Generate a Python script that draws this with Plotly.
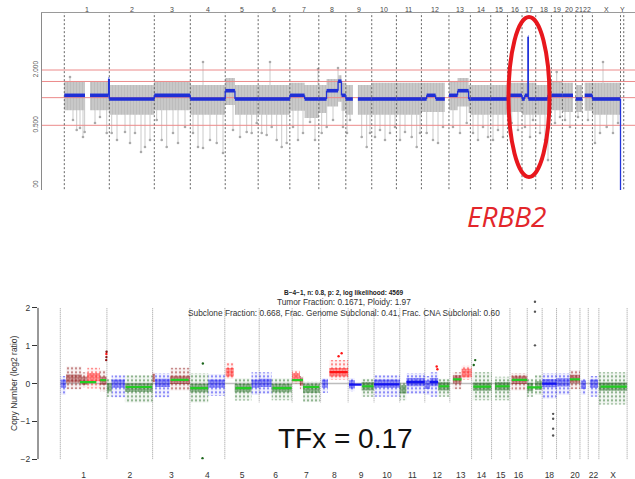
import plotly.graph_objects as go

# ---------------- data ----------------
chrom_names = ["1", "2", "3", "4", "5", "6", "7", "8", "9", "10", "11", "12",
               "13", "14", "15", "16", "17", "18", "19", "20", "21", "22", "X", "Y"]
# chromosome spans (Mb-like units) as laid out in each panel
top_chrom_len_mb = [250, 250, 200, 194, 183, 176, 161, 150, 144, 137, 139, 153,
                    119, 113, 93, 81, 76, 87, 61, 74, 37, 56, 156, 18]
bottom_chrom_names = chrom_names[:23]
bottom_chrom_len_mb = [259, 254, 207, 194, 191, 183, 158, 153, 144, 143, 139, 139,
                       121, 111, 102, 96, 83, 80, 74, 56, 46, 59, 157]
bottom_label_chroms = ["1", "2", "3", "4", "5", "6", "7", "8", "9", "10", "11", "12",
                       "13", "14", "15", "16", "18", "20", "22", "X"]

# top panel: copy ratio (log scale)
top_ref_lines = [0.5, 1.0, 1.5, 2.0]
top_tick_vals = [0.1, 0.5, 2.0]
top_tick_text = ["0.100", "0.500", "2.000"]

# chrom, start, end (Mb within chrom), segment ratio, cloud upper, cloud lower
top_segments = [
    ("1", 0, 115, 1.06, 1.48, 0.73), ("1", 143, 246, 1.06, 1.48, 0.73), ("1", 246, 250, 1.60, 1.48, 0.73),
    ("2", 0, 250, 0.967, 1.37, 0.65),
    ("3", 0, 200, 1.06, 1.48, 0.73),
    ("4", 0, 194, 0.967, 1.37, 0.65),
    ("5", 0, 54, 1.19, 1.64, 0.83), ("5", 54, 183, 0.967, 1.37, 0.65),
    ("6", 0, 176, 0.967, 1.37, 0.65),
    ("7", 0, 82, 1.06, 1.45, 0.72), ("7", 82, 161, 0.967, 1.37, 0.60),
    ("8", 0, 43, 0.967, 1.37, 0.68), ("8", 43, 107, 1.19, 1.60, 0.80),
    ("8", 107, 126, 1.51, 1.75, 0.90), ("8", 126, 150, 1.06, 1.45, 0.72),
    ("9", 0, 39, 0.967, 1.37, 0.65), ("9", 67, 144, 0.967, 1.37, 0.65),
    ("10", 0, 137, 0.967, 1.45, 0.65),
    ("11", 0, 139, 0.967, 1.45, 0.65),
    ("12", 0, 29, 0.967, 1.45, 0.70), ("12", 29, 79, 1.06, 1.45, 0.70), ("12", 79, 130, 0.967, 1.45, 0.70),
    ("13", 0, 48, 1.06, 1.50, 0.73), ("13", 48, 109, 1.19, 1.64, 0.80), ("13", 109, 119, 0.967, 1.37, 0.68),
    ("14", 0, 113, 0.967, 1.37, 0.65),
    ("15", 0, 93, 0.967, 1.37, 0.65),
    ("16", 0, 81, 1.06, 1.45, 0.70),
    ("17", 0, 15, 0.967, 1.45, 0.65), ("17", 15, 33, 1.06, 1.45, 0.65),
    ("17", 33, 35, 4.6, 1.45, 0.65), ("17", 35, 76, 0.967, 1.45, 0.65),
    ("18", 0, 67, 0.967, 1.37, 0.65), ("18", 67, 87, 1.06, 1.45, 0.70),
    ("19", 0, 61, 1.06, 1.50, 0.73),
    ("20", 0, 59, 1.06, 1.45, 0.70),
    ("21", 0, 37, 0.967, 1.37, 0.70),
    ("22", 13, 56, 1.06, 1.45, 0.72),
    ("X", 0, 156, 0.967, 1.45, 0.65),
    ("Y", 0, 18, 0.02, None, None),
]

# isolated bins sticking out of the cloud (genome position Mb, ratio)
top_spike_pos_mb = [48.3, 68.9, 87.2, 103.9, 113, 170.6, 198.3, 235.6, 31.7,
                    263.3, 292.8, 337.2, 365, 392.8, 426.1, 448.3, 476.1,
                    513.3, 541.1, 568.9, 603.9, 631.7, 670.6,
                    715, 742.8, 770.6, 809.4, 846.7, 881.7, 770.6,
                    937.2, 976.1, 1013.3, 1041.1, 1068.9,
                    1096.7, 1124.4, 1152.2, 1180, 1207.8, 1235.6, 1142.8,
                    1270.6, 1298.3, 1326.1, 1365, 1392.8, 1409.4,
                    1430, 1457.8, 1492.8, 1548.3, 1520.6,
                    1570.6, 1587.2, 1652.2, 1680, 1698.3,
                    1726.1, 1753.9, 1781.7, 1809.4, 1837.2,
                    1865, 1892.8, 1930, 1957.8, 1976.1,
                    2013.3, 2048.3, 2076.1, 2103.9,
                    2159.4, 2198.3, 2235.6,
                    2270.6, 2298.3, 2326.1, 2353.9,
                    2381.7, 2409.4, 2437.2,
                    2485.6, 2520.6,
                    2559.4, 2587.2, 2603.9,
                    2642.8, 2670.6, 2687.2,
                    2726.1, 2753.9, 2735.6,
                    2781.7, 2809.4,
                    2853.9, 2909.4,
                    2948.3, 2976.1, 3013.3, 3048.3, 3076.1, 2992.8]
top_spike_ratio = [0.571, 0.444, 0.467, 0.373, 0.422, 0.53, 0.616, 0.412, 1.68,
                   0.412, 0.346, 0.422, 0.321, 0.412, 0.256, 0.29, 0.346,
                   0.571, 0.346, 0.29, 0.412, 0.321, 0.479,
                   0.412, 0.29, 0.283, 0.346, 0.321, 0.25, 2.44,
                   0.444, 0.373, 0.422, 0.412, 0.53,
                   0.412, 0.392, 0.479, 0.346, 0.29, 0.321, 2.44,
                   0.479, 0.346, 0.412, 0.543, 0.346, 2.05,
                   0.412, 0.479, 0.571, 0.479, 2.1,
                   0.412, 0.571, 0.373, 0.29, 0.412,
                   0.373, 0.444, 0.346, 0.412, 0.479,
                   0.346, 0.422, 0.373, 0.29, 0.412,
                   0.412, 0.346, 0.321, 0.479,
                   0.479, 0.412, 0.53,
                   0.412, 0.346, 0.479, 0.373,
                   0.346, 0.444, 0.373,
                   0.53, 0.444,
                   0.479, 0.373, 0.571,
                   0.412, 0.346, 0.209,
                   0.53, 0.616, 1.9,
                   0.571, 0.479,
                   0.616, 0.571,
                   0.321, 0.412, 0.479, 0.412, 0.53, 2.44]

# bottom panel (ichorCNA): bin clouds per segment
# chrom, start, end (Mb within chrom), state, centre, lower, upper (log2 ratio)
bottom_clouds = [
    ("1", 2, 32, "neutral", 0.0, -0.30, 0.20), ("1", 32, 119, "subgain", 0.13, -0.15, 0.45),
    ("1", 119, 150, "subgain", 0.08, -0.10, 0.30), ("1", 150, 220, "gain", 0.17, -0.13, 0.42),
    ("1", 220, 257, "subgain", 0.08, -0.20, 0.35),
    ("2", 0, 26, "loss", -0.10, -0.35, 0.12), ("2", 26, 100, "neutral", 0.0, -0.36, 0.22),
    ("2", 100, 254, "loss", -0.11, -0.50, 0.22),
    ("3", 0, 13, "subgain", 0.15, -0.05, 0.30), ("3", 13, 96, "neutral", 0.02, -0.36, 0.27),
    ("3", 96, 207, "subgain", 0.10, -0.18, 0.42),
    ("4", 0, 102, "loss", -0.12, -0.50, 0.27), ("4", 102, 194, "neutral", 0.0, -0.33, 0.25),
    ("5", 5, 50, "gain", 0.30, 0.12, 0.55), ("5", 55, 148, "loss", -0.12, -0.45, 0.14),
    ("5", 148, 191, "neutral", 0.0, -0.30, 0.30),
    ("6", 0, 69, "neutral", 0.02, -0.27, 0.30), ("6", 69, 180, "loss", -0.12, -0.44, 0.14),
    ("7", 0, 43, "gain", 0.17, 0.0, 0.35), ("7", 43, 61, "subgain", 0.05, -0.15, 0.20),
    ("7", 61, 154, "loss", -0.13, -0.49, 0.05),
    ("8", 7, 40, "neutral", 0.0, -0.25, 0.15), ("8", 48, 153, "gain", 0.30, 0.10, 0.62),
    ("9", 5, 37, "neutral", -0.02, -0.20, 0.15), ("9", 75, 144, "loss", -0.07, -0.35, 0.13),
    ("10", 0, 143, "neutral", 0.0, -0.35, 0.22),
    ("11", 0, 37, "loss", -0.15, -0.44, 0.04), ("11", 37, 139, "neutral", 0.04, -0.27, 0.27),
    ("12", 0, 28, "neutral", -0.03, -0.30, 0.20), ("12", 28, 74, "neutral", 0.04, -0.35, 0.30),
    ("12", 74, 139, "loss", -0.07, -0.35, 0.13),
    ("13", 17, 65, "subgain", 0.11, -0.15, 0.30), ("13", 65, 121, "gain", 0.28, 0.10, 0.47),
    ("14", 7, 111, "loss", -0.08, -0.44, 0.30),
    ("15", 18, 102, "loss", -0.07, -0.44, 0.18),
    ("16", 9, 96, "subgain", 0.10, -0.18, 0.27),
    ("17", 0, 33, "loss", -0.09, -0.35, 0.13), ("17", 43, 83, "loss", -0.05, -0.30, 0.22),
    ("18", 0, 80, "neutral", 0.01, -0.40, 0.27),
    ("19", 0, 74, "neutral", 0.03, -0.30, 0.27),
    ("20", 0, 56, "subgain", 0.12, -0.15, 0.35),
    ("21", 5, 33, "neutral", -0.03, -0.30, 0.13),
    ("22", 9, 54, "neutral", 0.0, -0.35, 0.20),
    ("X", 0, 157, "loss", -0.08, -0.55, 0.30),
]
# segment medians: chrom, start, end, log2 ratio, line colour key
bottom_seg_lines = [
    ("1", 109, 200, 0.04, "seg"), ("1", 222, 255, 0.09, "seg"),
    ("2", 105, 250, -0.09, "seg"),
    ("3", 100, 200, 0.10, "seg"),
    ("4", 2, 100, -0.12, "seg"),
    ("5", 60, 148, -0.12, "seg"),
    ("6", 75, 180, -0.12, "seg"),
    ("7", 0, 60, 0.09, "seg"), ("7", 60, 150, -0.09, "seg"),
    ("8", 50, 150, 0.30, "gain"),
    ("9", 5, 75, -0.03, "neutral"), ("9", 78, 140, -0.07, "seg"),
    ("10", 0, 140, -0.02, "neutral"),
    ("11", 37, 139, 0.04, "neutral"),
    ("12", 28, 74, 0.04, "neutral"), ("12", 78, 135, -0.07, "seg"),
    ("13", 17, 65, 0.11, "seg"),
    ("14", 10, 108, -0.08, "seg"),
    ("15", 20, 100, -0.07, "seg"),
    ("16", 10, 95, 0.10, "seg"),
    ("17", 0, 80, -0.10, "seg"),
    ("18", 0, 80, 0.0, "neutral"),
    ("20", 0, 56, 0.11, "seg"),
    ("X", 10, 155, -0.08, "seg"),
]
# outlying bins: chrom, pos (Mb within chrom), log2 ratio, state
bottom_outliers = [
    ("1", 255, 0.62, "subgain"), ("1", 256, 0.70, "subgain"), ("1", 256, 0.78, "gain"), ("1", 257, 0.84, "subgain"),
    ("4", 72, 0.53, "loss"), ("4", 70, -1.97, "loss"),
    ("8", 117, 0.80, "gain"), ("8", 100, 0.72, "gain"),
    ("12", 66, 0.45, "gain"), ("12", 70, 0.38, "gain"),
    ("14", 20, 0.62, "loss"), ("14", 12, 0.49, "loss"),
    ("17", 43, 2.16, "other"), ("17", 43, 1.90, "other"), ("17", 43, 1.01, "other"),
    ("18", 61, -0.80, "other"), ("18", 61, -0.93, "other"), ("18", 61, -1.19, "other"), ("18", 61, -1.37, "other"),
]
bottom_y_ticks = [-2, -1, 0, 1, 2]
bottom_y_tick_text = ["\u22122", "\u22121", "0", "1", "2"]

title_line1 = "B\u22124\u22121, n: 0.8, p: 2, log likelihood: 4569"
title_line2 = "Tumor Fraction: 0.1671, Ploidy: 1.97"
title_line3 = "Subclone Fraction: 0.668, Frac. Genome Subclonal: 0.41, Frac. CNA Subclonal: 0.60"
gene_label = "ERBB2"
tfx_label = "TFx = 0.17"

assert len(top_spike_pos_mb) == len(top_spike_ratio)

# ---------------- helpers / style ----------------
W, H = 635, 479
FONT = "Liberation Sans"


def px(x):
    return x / W


def py(y):
    return 1 - y / H


def starts(names, lengths):
    out, s = {}, 0.0
    for n, L in zip(names, lengths):
        out[n] = s
        s += L
    return out, s


top_start, top_total = starts(chrom_names, top_chrom_len_mb)
bot_start, bot_total = starts(bottom_chrom_names, bottom_chrom_len_mb)

state_color = {"neutral": "#1414f0", "loss": "#1c661c", "gain": "#ff1414",
               "subgain": "#8b1010", "other": "#555555", "seg": "#22cc22"}
state_rgb = {"neutral": (20, 20, 240), "loss": (28, 102, 28), "gain": (255, 20, 20),
             "subgain": (139, 16, 16)}

fig = go.Figure()

# ---------- top panel ----------
TOP_X_RANGE = [-(64.3 - 42) / 0.18, (635 - 64.3) / 0.18]
TOP_Y_RANGE = [-1.0054, 0.9216]  # log10

# spikes
sx, sy = [], []
for p, v in zip(top_spike_pos_mb, top_spike_ratio):
    sx += [p, p, None]
    sy += [1.0, v, None]
fig.add_trace(go.Scatter(x=sx, y=sy, mode="lines", line=dict(color="#bdbdbd", width=0.8),
                         xaxis="x", yaxis="y", hoverinfo="skip"))
fig.add_trace(go.Scatter(x=top_spike_pos_mb, y=top_spike_ratio, mode="markers",
                         marker=dict(color="#aaaaaa", size=2.6), xaxis="x", yaxis="y", hoverinfo="skip"))

# dense bin cloud
bx, by = [], []
for c, s, e, r, hi, lo in top_segments:
    if hi is None:
        continue
    g0, g1 = top_start[c] + s, top_start[c] + e
    bx += [g0, g1, g1, g0, g0, None]
    by += [hi, hi, lo, lo, hi, None]
fig.add_trace(go.Scatter(x=bx, y=by, mode="lines", fill="toself", line=dict(width=0),
                         fillcolor="#c4c4c4",
                         fillpattern=dict(shape="|", fgcolor="#b0b0b0", bgcolor="#c8c8c8",
                                          size=3, solidity=0.3),
                         xaxis="x", yaxis="y", hoverinfo="skip"))

# reference lines
rx, ry = [], []
for v in top_ref_lines:
    rx += [TOP_X_RANGE[0], TOP_X_RANGE[1], None]
    ry += [v, v, None]
fig.add_trace(go.Scatter(x=rx, y=ry, mode="lines", line=dict(color="#ec8a8a", width=1),
                         xaxis="x", yaxis="y", hoverinfo="skip"))

# chromosome boundaries
vx, vy = [], []
for c in chrom_names:
    vx += [top_start[c], top_start[c], None]
    vy += [0.05, 12, None]
vx += [top_total, top_total, None]
vy += [0.05, 12, None]
fig.add_trace(go.Scatter(x=vx, y=vy, mode="lines", line=dict(color="#555555", width=0.9, dash="2px,2px"),
                         xaxis="x", yaxis="y", hoverinfo="skip"))

# segments + thin connectors
segx, segy, cx, cy = [], [], [], []
prev = None
for c, s, e, r, hi, lo in top_segments:
    g0, g1 = top_start[c] + s, top_start[c] + e
    segx += [g0, g1, None]
    segy += [r, r, None]
    if prev is not None and abs(prev[0] - g0) < 0.5:
        cx += [g0, g0, None]
        cy += [prev[1], r, None]
    prev = (g1, r)
fig.add_trace(go.Scatter(x=cx, y=cy, mode="lines", line=dict(color="#2233d8", width=1.3),
                         xaxis="x", yaxis="y", hoverinfo="skip"))
fig.add_trace(go.Scatter(x=segx, y=segy, mode="lines", line=dict(color="#1f2fd6", width=3.6),
                         xaxis="x", yaxis="y", hoverinfo="skip"))

# ---------- bottom panel ----------
BOT_X_RANGE = [-(60.3 - 38) / 0.18, (635 - 60.3) / 0.18]
CORE = 0.11

fig.add_trace(go.Scatter(x=[0, bot_total], y=[0, 0], mode="lines", line=dict(color="#bdbdbd", width=1.5),
                         xaxis="x2", yaxis="y2", hoverinfo="skip"))

for layer in ("outer", "core"):
    for st, rgb in state_rgb.items():
        xs, ys = [], []
        for c, s, e, state, ctr, lo, hi in bottom_clouds:
            if state != st:
                continue
            g0, g1 = bot_start[c] + s, bot_start[c] + e
            if layer == "outer":
                a, b = lo, hi
            else:
                a, b = max(lo, ctr - CORE), min(hi, ctr + CORE)
            xs += [g0, g1, g1, g0, g0, None]
            ys += [b, b, a, a, b, None]
        if not xs:
            continue
        if layer == "outer":
            pat = dict(shape=".", fgcolor=state_color[st], bgcolor="rgba(%d,%d,%d,0.05)" % rgb,
                       size=4, solidity=0.25)
        else:
            pat = dict(shape=".", fgcolor=state_color[st], bgcolor="rgba(%d,%d,%d,0.30)" % rgb,
                       size=3, solidity=0.55)
        fig.add_trace(go.Scatter(x=xs, y=ys, mode="lines", fill="toself", line=dict(width=0),
                                 fillcolor="rgba(%d,%d,%d,0.2)" % rgb, fillpattern=pat,
                                 xaxis="x2", yaxis="y2", hoverinfo="skip"))

for key in ("seg", "neutral", "gain"):
    xs, ys = [], []
    for c, s, e, v, k in bottom_seg_lines:
        if k != key:
            continue
        xs += [bot_start[c] + s, bot_start[c] + e, None]
        ys += [v, v, None]
    if xs:
        fig.add_trace(go.Scatter(x=xs, y=ys, mode="lines", line=dict(color=state_color[key], width=2.2),
                                 xaxis="x2", yaxis="y2", hoverinfo="skip"))

fig.add_trace(go.Scatter(x=[bot_start[c] + p for c, p, v, s in bottom_outliers],
                         y=[v for c, p, v, s in bottom_outliers], mode="markers",
                         marker=dict(color=[state_color[s] for c, p, v, s in bottom_outliers], size=2.4),
                         cliponaxis=False, xaxis="x2", yaxis="y2", hoverinfo="skip"))

# ---------------- layout ----------------
shapes = []
for c in bottom_chrom_names:
    shapes.append(dict(type="line", xref="x2", yref="y2", x0=bot_start[c], x1=bot_start[c], y0=-2, y1=2,
                       line=dict(color="#9a9a9a", width=1, dash="1px,1px"), layer="below"))
shapes.append(dict(type="line", xref="x2", yref="y2", x0=bot_total, x1=bot_total, y0=-2, y1=2,
                   line=dict(color="#9a9a9a", width=1, dash="1px,1px"), layer="below"))
# bottom y axis line (only over -2..2)
shapes.append(dict(type="line", xref="paper", yref="y2", x0=px(38), x1=px(38), y0=-2, y1=2,
                   line=dict(color="#333333", width=1)))
# crop edge of the upper picture
shapes.append(dict(type="rect", xref="paper", yref="paper", x0=0, x1=px(41), y0=py(206), y1=py(187.5),
                   fillcolor="white", line=dict(width=0), layer="above"))
# ellipse around ERBB2 amplification
shapes.append(dict(type="circle", xref="paper", yref="paper", x0=px(508.5), x1=px(549.5),
                   y0=py(177), y1=py(17), line=dict(color="#e8171d", width=4), layer="above"))
# white box behind TFx label
shapes.append(dict(type="rect", xref="paper", yref="paper", x0=px(244), x1=px(467), y0=py(466), y1=py(402.5),
                   fillcolor="white", line=dict(width=0), layer="above"))

annotations = [
    dict(x=px(344), y=py(293), xref="paper", yref="paper", text="<b>" + title_line1 + "</b>",
         showarrow=False, font=dict(size=6.5, color="#222", family=FONT), xanchor="center", yanchor="middle"),
    dict(x=px(344), y=py(307.8), xref="paper", yref="paper", text=title_line2 + "<br>" + title_line3,
         showarrow=False, font=dict(size=8.3, color="#333", family=FONT), xanchor="center", yanchor="middle",
         align="center"),
    dict(x=px(14), y=py(383), xref="paper", yref="paper", text="Copy Number (log2 ratio)", textangle=-90,
         showarrow=False, font=dict(size=8.5, color="#333", family=FONT), xanchor="center", yanchor="middle"),
    dict(x=px(507), y=py(216), xref="paper", yref="paper", text=gene_label, showarrow=False,
         font=dict(size=28, color="#e3262b", family="Open Sans", style="italic"),
         xanchor="center", yanchor="middle"),
    dict(x=px(345), y=py(438), xref="paper", yref="paper", text=tfx_label, showarrow=False,
         font=dict(size=28, color="#111", family=FONT), xanchor="center", yanchor="middle"),
]
# chromosome names along the top of the upper panel
for c, L in zip(chrom_names, top_chrom_len_mb):
    annotations.append(dict(x=top_start[c] + L / 2, y=py(9.5), xref="x", yref="paper", text=c,
                            showarrow=False, font=dict(size=7, color="#4a4a4a", family=FONT),
                            xanchor="center", yanchor="middle"))

bot_centers = [bot_start[c] + L / 2 for c, L in zip(bottom_chrom_names, bottom_chrom_len_mb)
               if c in bottom_label_chroms]

fig.update_layout(
    width=W, height=H, margin=dict(l=0, r=0, t=0, b=0, autoexpand=False),
    paper_bgcolor="white", plot_bgcolor="white", showlegend=False,
    font=dict(family=FONT),
    xaxis=dict(domain=[px(42), 1], range=TOP_X_RANGE, anchor="y", side="top", automargin=False,
               showline=True, linecolor="#9a9a9a", linewidth=1, mirror=False,
               showgrid=False, zeroline=False, ticks="", showticklabels=False),
    yaxis=dict(domain=[py(190), py(13)], type="log", range=TOP_Y_RANGE, anchor="x", automargin=False,
               showline=True, linecolor="#8a8a8a", linewidth=1,
               showgrid=False, zeroline=False, ticks="",
               tickvals=top_tick_vals, ticktext=top_tick_text, tickangle=-90,
               tickfont=dict(size=6.5, color="#555")),
    xaxis2=dict(domain=[px(38), 1], range=BOT_X_RANGE, anchor="y2", automargin=False,
                showline=False, showgrid=False, zeroline=False,
                ticks="outside", ticklen=7, tickcolor="rgba(0,0,0,0)", tickangle=0,
                tickvals=bot_centers, ticktext=bottom_label_chroms,
                tickfont=dict(size=8.5, color="#333")),
    yaxis2=dict(domain=[py(459.3), py(298.4)], range=[-2, 2.25], anchor="x2", automargin=False,
                showline=False, showgrid=False, zeroline=False,
                ticks="outside", ticklen=5, tickcolor="#333", tickwidth=1,
                tickvals=bottom_y_ticks, ticktext=bottom_y_tick_text,
                tickfont=dict(size=8.5, color="#333")),
    shapes=shapes, annotations=annotations,
)

fig.write_html("out.html", config={"displayModeBar": False, "staticPlot": True},
               post_script="document.body.style.margin='0';document.body.style.overflow='hidden';")
